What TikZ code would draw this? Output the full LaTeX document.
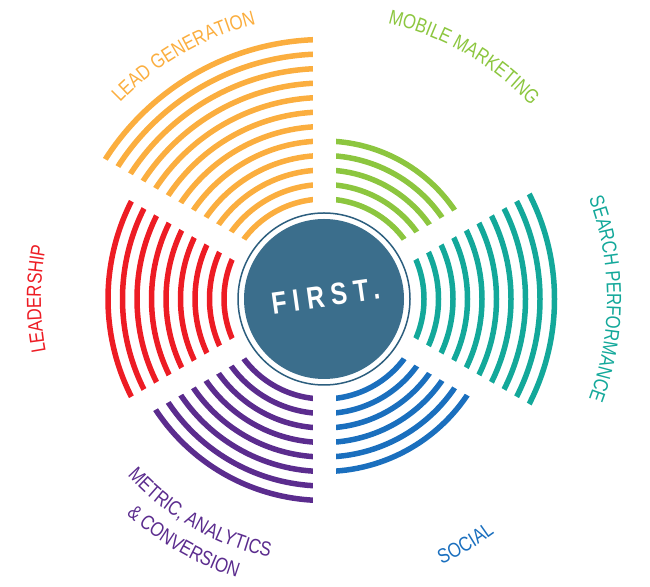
\documentclass[tikz,border=0pt]{standalone}
\usepackage{fontspec}
\newfontfamily\labelfont[FakeStretch=0.82]{Liberation Sans}
\newfontfamily\firstfont[FakeStretch=0.8,LetterSpace=22]{Liberation Sans}
\usetikzlibrary{decorations.text}
\definecolor{cOrange}{HTML}{FBAE3F}
\definecolor{cGreen}{HTML}{8CC63F}
\definecolor{cTeal}{HTML}{13A89A}
\definecolor{cBlue}{HTML}{1A6FBE}
\definecolor{cPurple}{HTML}{5B2C8E}
\definecolor{cRed}{HTML}{ED1C24}
\definecolor{cFill}{HTML}{3B6E8C}
\definecolor{cRing}{HTML}{2C5E7E}
\begin{document}
\begin{tikzpicture}[x=1bp,y=1bp,
  band/.style={line width=5.5bp},
  gapstrip/.style={white, line width=23bp},
  lbl/.style={decorate, decoration={text along path, text align=center, text={#1}}}]
\useasboundingbox (0,0) rectangle (650,587);
\begin{scope}[shift={(324,288)}]
\coordinate (C) at (0,0);
% rays of arcs
\foreach \k in {0,...,11} \draw[band, cOrange] (90:{100+14.5*\k}) arc[start angle=90, end angle=150, radius={100+14.5*\k}];
\foreach \k in {0,...,8}  \draw[band, cRed] (150:{100+14.5*\k}) arc[start angle=150, end angle=210, radius={100+14.5*\k}];
\foreach \k in {0,...,7}  \draw[band, cPurple] (210:{100+14.5*\k}) arc[start angle=210, end angle=270, radius={100+14.5*\k}];
\foreach \k in {0,...,5}  \draw[band, cBlue] (270:{100+14.5*\k}) arc[start angle=270, end angle=330, radius={100+14.5*\k}];
\foreach \k in {0,...,9}  \draw[band, cTeal] (-30:{100+14.5*\k}) arc[start angle=-30, end angle=30, radius={100+14.5*\k}];
\foreach \k in {0,...,4}  \draw[band, cGreen] (30:{100+14.5*\k}) arc[start angle=30, end angle=90, radius={100+14.5*\k}];
% gaps between sectors
\foreach \a in {30,90,150,210,270,330} \draw[gapstrip] (C) -- (\a:268);
% centre
\fill[cFill] (C) circle (80);
\draw[cRing, line width=1.5bp] (C) circle (86);
\node[text=white, rotate=8, font=\firstfont\bfseries\fontsize{31}{31}\selectfont] (first) at (2,3) {FIRST.};
% labels
\path[lbl={|\labelfont\fontsize{20.5}{20.5}\selectfont\color{cOrange}|LEAD GENERATION}] (165:283) arc[start angle=165, end angle=75, radius=283];
\path[lbl={|\labelfont\fontsize{20.5}{20.5}\selectfont\color{cGreen}|MOBILE MARKETING}] (105:283) arc[start angle=105, end angle=15, radius=283];
\path[lbl={|\labelfont\fontsize{20.5}{20.5}\selectfont\color{cTeal}|SEARCH PERFORMANCE}] (45:283) arc[start angle=45, end angle=-45, radius=283];
\path[lbl={|\labelfont\fontsize{20.5}{20.5}\selectfont\color{cRed}|LEADERSHIP}] (225:283) arc[start angle=225, end angle=135, radius=283];
\path[lbl={|\labelfont\fontsize{20.5}{20.5}\selectfont\color{cBlue}|SOCIAL}] (255:290) arc[start angle=255, end angle=345, radius=290];
\path[lbl={|\labelfont\fontsize{20.5}{20.5}\selectfont\color{cPurple}|METRIC, ANALYTICS}] (195:264) arc[start angle=195, end angle=285, radius=264];
\path[lbl={|\labelfont\fontsize{20.5}{20.5}\selectfont\color{cPurple}|{\&} CONVERSION}] (195:292) arc[start angle=195, end angle=285, radius=292];
\end{scope}
\end{tikzpicture}
\end{document}
